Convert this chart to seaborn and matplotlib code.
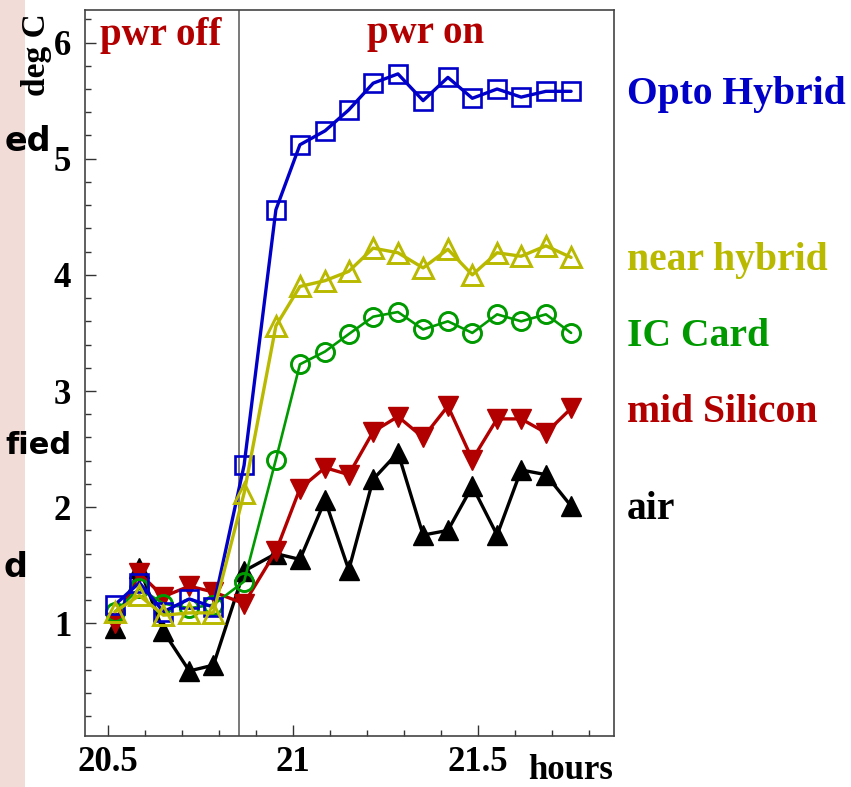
import matplotlib
matplotlib.use("Agg")
import matplotlib.pyplot as plt
import seaborn as sns
from matplotlib.patches import Rectangle
from matplotlib.ticker import MultipleLocator, FixedLocator

# ---- data ----
hours = [20.518, 20.584, 20.649, 20.719, 20.784, 20.867, 20.953, 21.018, 21.086, 21.150,
         21.216, 21.283, 21.351, 21.418, 21.484, 21.551, 21.616, 21.683, 21.751]
opto_hybrid = [1.16, 1.35, 1.10, 1.21, 1.14, 2.36, 4.56, 5.12, 5.24, 5.42,
               5.65, 5.73, 5.50, 5.70, 5.52, 5.60, 5.53, 5.58, 5.58]
near_hybrid = [1.10, 1.24, 1.07, 1.09, 1.09, 2.12, 3.56, 3.90, 3.95, 4.03,
               4.23, 4.19, 4.06, 4.22, 4.00, 4.19, 4.16, 4.25, 4.15]
ic_card = [1.10, 1.30, 1.17, 1.13, 1.16, 1.36, 2.41, 3.23, 3.34, 3.49,
           3.64, 3.68, 3.53, 3.60, 3.50, 3.66, 3.60, 3.66, 3.50]
mid_silicon = [1.00, 1.43, 1.23, 1.32, 1.27, 1.17, 1.62, 2.16, 2.34, 2.28,
               2.65, 2.78, 2.60, 2.87, 2.41, 2.76, 2.76, 2.64, 2.85]
air = [0.96, 1.48, 0.93, 0.59, 0.64, 1.45, 1.60, 1.55, 2.06, 1.46,
       2.24, 2.47, 1.76, 1.80, 2.18, 1.76, 2.32, 2.28, 2.01]

series_names = ["Opto Hybrid", "near hybrid", "IC Card", "mid Silicon", "air"]
label_y = [5.47, 4.04, 3.39, 2.73, 1.90]
power_switch = 20.854
x_ticks = [20.5, 21, 21.5]
x_ticklabels = ["20.5", "21", "21.5"]
y_ticks = [1, 2, 3, 4, 5, 6]

# ---- style ----
sns.set_style("ticks")
plt.rcParams["font.family"] = ["Liberation Serif", "DejaVu Serif"]
plt.rcParams["font.weight"] = "bold"

W, H = 851, 787
fig = plt.figure(figsize=(W / 100, H / 100), dpi=100)
fig.patch.set_facecolor("white")
fig.patches.append(Rectangle((0, 0), 25 / W, 1, transform=fig.transFigure,
                             facecolor="#f1dcd8", edgecolor="none", zorder=0))

ax = fig.add_axes([85 / W, 1 - 736 / H, (614 - 85) / W, (736 - 10) / H])
ax.set_facecolor("white")

BLUE = "#0000c8"
YEL = "#b9b900"
GRN = "#009a00"
RED = "#b20000"
BLK = "#000000"

# draw order: black, red, green, blue, yellow
sns.lineplot(x=hours, y=air, ax=ax, color=BLK, marker="^", markersize=14.5,
             mfc=BLK, mec=BLK, mew=1, lw=2.4, zorder=3)
sns.lineplot(x=hours, y=mid_silicon, ax=ax, color=RED, marker="v", markersize=14.5,
             mfc=RED, mec=RED, mew=1, lw=2.4, zorder=4)
sns.lineplot(x=hours, y=ic_card, ax=ax, color=GRN, marker="o", markersize=13,
             mfc="none", mec=GRN, mew=2.1, lw=1.9, zorder=5)
sns.lineplot(x=hours, y=opto_hybrid, ax=ax, color=BLUE, marker="s", markersize=13,
             mfc="none", mec=BLUE, mew=1.9, lw=2.4, zorder=6)
sns.lineplot(x=hours, y=near_hybrid, ax=ax, color=YEL, marker="^", markersize=15,
             mfc="none", mec=YEL, mew=2.1, lw=2.4, zorder=7)

ax.axvline(power_switch, color="#555555", lw=1.1, zorder=2)

ax.set_xlim(20.437, 21.867)
ax.set_ylim(0.03, 6.28)
ax.xaxis.set_major_locator(FixedLocator(x_ticks))
ax.set_xticklabels(x_ticklabels)
ax.xaxis.set_minor_locator(MultipleLocator(0.1))
ax.yaxis.set_major_locator(FixedLocator(y_ticks))
ax.yaxis.set_minor_locator(MultipleLocator(0.2))
ax.tick_params(which="both", direction="in", top=False, right=False, width=1,
               color="#333333", labelcolor="black")
ax.tick_params(which="major", length=8)
ax.tick_params(which="minor", length=4.5)
ax.tick_params(axis="y", which="major", pad=10, labelsize=25)
ax.tick_params(axis="x", which="major", pad=7, labelsize=25)
for lab in ax.get_xticklabels() + ax.get_yticklabels():
    lab.set_fontweight("bold")
for s in ax.spines.values():
    s.set_color("#444444")
    s.set_linewidth(1.2)
    s.set_visible(True)
ax.set_xlabel("")
ax.set_ylabel("")
if ax.get_legend():
    ax.get_legend().remove()

# texts
fig.text(100 / W, 1 - 45 / H, "pwr off", color=RED, fontsize=28, fontweight="bold",
         ha="left", va="baseline")
fig.text(426 / W, 1 - 43 / H, "pwr on", color=RED, fontsize=28, fontweight="bold",
         ha="center", va="baseline")
fig.text(36 / W, 1 - 55 / H, "deg C", rotation=90, fontsize=24, fontweight="bold",
         ha="center", va="center", color="black")
fig.text(613 / W, 1 - 779 / H, "hours", fontsize=25, fontweight="bold",
         ha="right", va="baseline", color="black")

colors = [BLUE, YEL, GRN, RED, BLK]
for name, yv, c in zip(series_names, label_y, colors):
    ax.text(1.024, yv, name, transform=ax.get_yaxis_transform(), color=c,
            fontsize=28.5, fontweight="bold", ha="left", va="baseline", clip_on=False)

# partial slide-background text on the left edge
for txt, xr, yb, fs in [("ed", 51, 151, 24), ("fied", 71, 454, 22), ("d", 27, 577, 24)]:
    fig.text(xr / W, 1 - yb / H, txt, fontsize=fs, fontweight="bold",
             family=["DejaVu Sans"], ha="right", va="baseline", color="black")

fig.savefig("out.png", dpi=100, facecolor=fig.get_facecolor())
